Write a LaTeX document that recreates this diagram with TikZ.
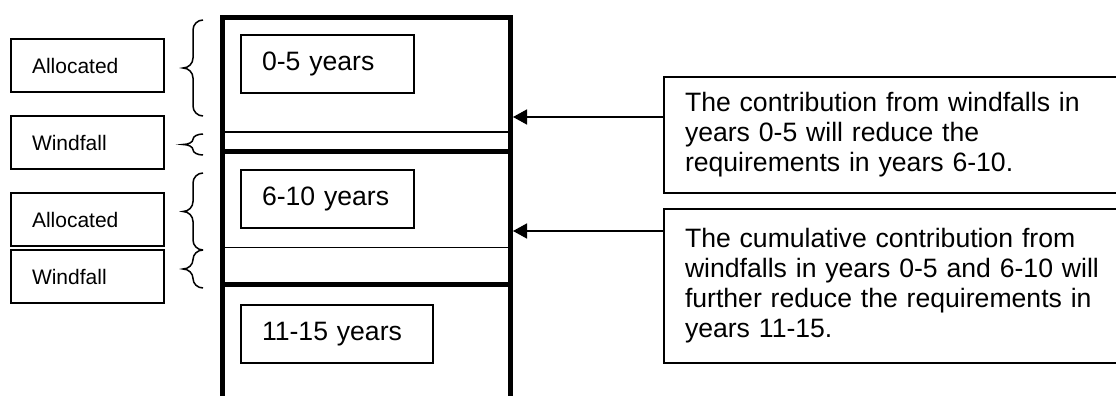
\documentclass[tikz,border=0pt]{standalone}
\usepackage{fontspec}
\setmainfont{Liberation Sans}
\usetikzlibrary{arrows.meta}

\tikzset{
  labelbox/.style={draw, line width=1.5pt, outer sep=0pt, anchor=north west, align=left,
    text width=111pt, inner xsep=21pt, inner ysep=0pt, minimum height=53pt,
    font=\fontsize{21}{25}\selectfont},
  yearbox/.style={draw, line width=1.5pt, outer sep=0pt, anchor=north west, align=left,
    inner xsep=21pt, inner ysep=0pt, minimum height=58pt,
    font=\fontsize{26.6}{30}\selectfont},
  notebox/.style={draw, line width=2pt, outer sep=0pt, anchor=north west, align=left,
    text width=424pt, inner xsep=21pt, inner ysep=0pt,
    font=\fontsize{26.6}{30}\selectfont},
  frame/.style={line width=5pt},
  divider/.style={line width=1.5pt},
  brc/.style={line width=1.5pt},
  arr/.style={line width=1.5pt, -{Triangle[length=14pt, width=15pt]}}
}

% curly brace from top #1 to bottom #2, tip pointing left
\newcommand\curlybrace[2]{%
  \pgfmathsetmacro\bm{(#1+#2)/2}%
  \pgfmathsetmacro\br{min(10,(#2-#1)/4)}%
  \draw[brc] (203,#1) .. controls (197.5,#1) and (193,#1+0.45*\br) .. (193,#1+\br)
    -- (193,\bm-\br) .. controls (193,\bm-0.45*\br) and (188.5,\bm) .. (183,\bm)
    .. controls (188.5,\bm) and (193,\bm+0.45*\br) .. (193,\bm+\br)
    -- (193,#2-\br) .. controls (193,#2-0.45*\br) and (197.5,#2) .. (203,#2);%
}

\begin{document}
\begin{tikzpicture}[x=1pt, y=-1pt]

\useasboundingbox (0,0) rectangle (1116,396);
\clip (0,0) rectangle (1116,396);

% Column
\draw[frame] (222,420) -- (222,17.5) -- (510,17.5) -- (510,420);
\draw[frame] (222,151) -- (510,151);
\draw[frame] (222,284) -- (510,284);
\draw[divider] (224.5,132) -- (507.5,132);
\draw[divider] (224.5,247.5) -- (507.5,247.5);

% Periods
\node[yearbox, text width=131pt] (y05) at (241,35) {0-5 years};
\node[yearbox, text width=131pt] (y610) at (241,170) {6-10 years};
\node[yearbox, text width=150pt] (y1115) at (241,305) {11-15 years};

% Left labels
\node[labelbox] (alloc1) at (11,39) {Allocated};
\node[labelbox] (wind1) at (11,116) {Windfall};
\node[labelbox] (alloc2) at (11,193) {Allocated};
\node[labelbox] (wind2) at (11,250) {Windfall};

% Braces
\curlybrace{20}{116}
\curlybrace{134}{155}
\curlybrace{173}{250}
\curlybrace{250}{288}

% Notes
\node[notebox, minimum height=116pt] (note1) at (664,77)
  {The contribution from windfalls in\\years 0-5 will reduce the\\requirements in years 6-10.};
\node[notebox, minimum height=154pt] (note2) at (664,209)
  {The cumulative contribution from\\windfalls in years 0-5 and 6-10 will\\further reduce the requirements in\\years 11-15.};

% Arrows
\coordinate (a1) at (513,117);
\coordinate (a2) at (513,231);
\draw[arr] (note1.west |- a1) -- (a1);
\draw[arr] (note2.west |- a2) -- (a2);

\end{tikzpicture}
\end{document}
